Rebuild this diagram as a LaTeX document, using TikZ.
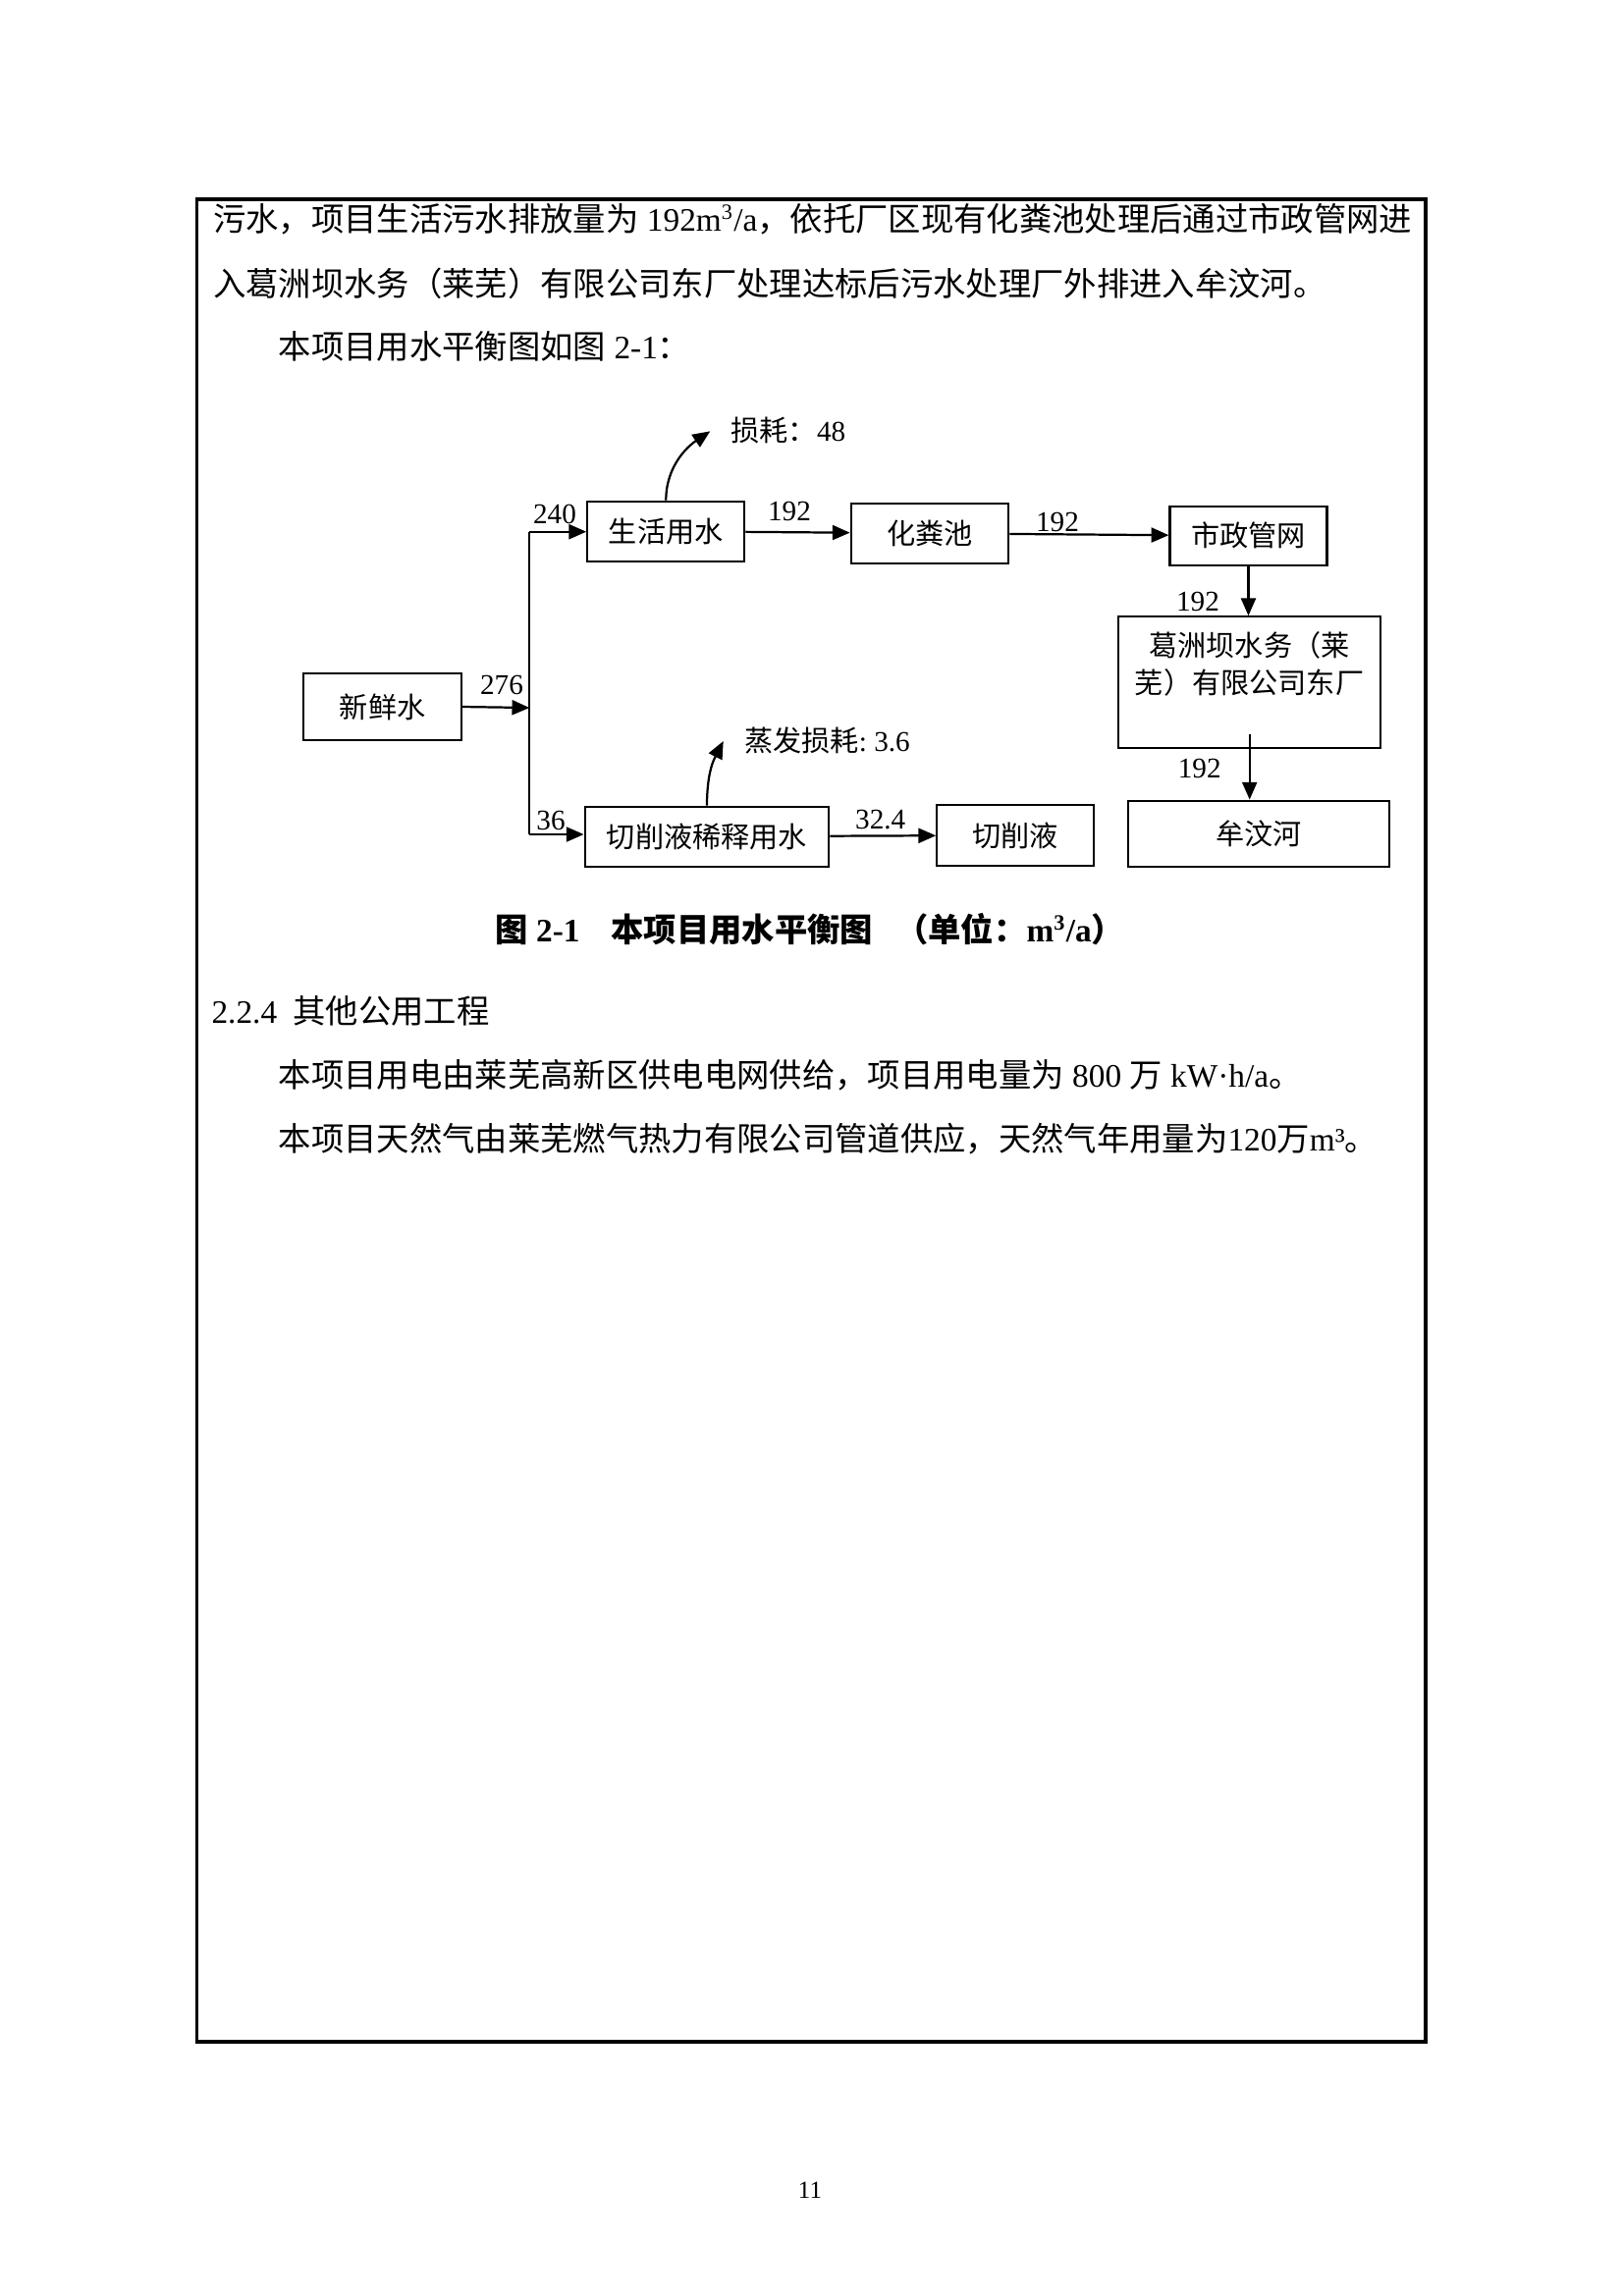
\documentclass[tikz,border=0pt]{standalone}
\usepackage{fontspec}
\setmainfont{Liberation Serif}
\newfontfamily\cjk{Noto Sans CJK SC}
\usetikzlibrary{arrows.meta}
\newcommand{\zh}[1]{{\cjk #1}}
\begin{document}
\begin{tikzpicture}[x=0.36pt, y=-0.36pt,
  box/.style={draw, line width=0.8pt, inner sep=0pt, font=\fontsize{10.5}{12}\selectfont\cjk},
  lbl/.style={inner sep=0pt, font=\fontsize{10.5}{12}\selectfont},
  flow/.style={line width=0.8pt, -{Triangle[length=6.4pt,width=5.4pt]}},
  body/.style={anchor=west, inner sep=0pt, font=\fontsize{12}{14}\selectfont},
  frameline/.style={line width=1.2pt}]
\fill[white] (0,0) rectangle (1653,2339);
\useasboundingbox (0,0) rectangle (1653,2339);

% page frame
\draw[frameline] (200.5,203) rectangle (1452,2080);

% body text
\node[body] (t1) at (216.7,223) {\zh{污水，项目生活污水排放量为} 192m\textsuperscript{3}/a\zh{，依托厂区现有化粪池处理后通过市政管网进}};
\node[body] (t2) at (216.7,288.5) {\zh{入葛洲坝水务（莱芜）有限公司东厂处理达标后污水处理厂外排进入牟汶河。}};
\node[body] (t3) at (283.3,353) {\zh{本项目用水平衡图如图} 2-1\zh{：}};

% diagram boxes
\node[box, minimum width=57.85pt, minimum height=24.48pt] (xxs) at (389.7,720) {新鲜水};
\node[box, minimum width=57.6pt, minimum height=21.96pt] (shys) at (678.3,541.2) {生活用水};
\node[box, minimum width=57.8pt, minimum height=22.07pt] (hfc) at (947,543.3) {化粪池};
\node[box, minimum width=57.6pt, minimum height=21.7pt] (szgw) at (1271.5,545.8) {市政管网};
\node[box, minimum width=95.9pt, minimum height=48pt] (gzb) at (1272.5,695) {};
\node[lbl, align=center, font=\fontsize{10.5}{13.7}\selectfont\cjk] (gzbt) at (1272.5,676) {葛洲坝水务（莱\\芜）有限公司东厂};
\node[box, minimum width=95.76pt, minimum height=24.12pt] (mwh) at (1282,849.2) {牟汶河};
\node[box, minimum width=89.5pt, minimum height=21.96pt] (qxys) at (720,852.2) {切削液稀释用水};
\node[box, minimum width=57.5pt, minimum height=22.2pt] (qxy) at (1034.2,850.9) {切削液};

% junctions
\coordinate (jt) at (539.3,541.7);
\coordinate (jm) at (539.3,721);
\coordinate (jb) at (539.3,850);
\coordinate (gzbout) at (1272.7,748.3);
\coordinate (loss1) at (723.3,439.3);
\coordinate (loss2) at (736.7,755);

% connectors
\draw[line width=0.8pt] (jt) -- (jb);
\draw[flow] (xxs.east) -- (jm);
\draw[flow] (jt) -- (jt -| shys.west);
\draw[flow] (jb) -- (jb -| qxys.west);
\draw[flow] (shys) -- (hfc);
\draw[flow] (hfc) -- (szgw);
\draw[flow] (szgw.south) -- (szgw.south |- gzb.north);
\draw[flow] (gzbout) -- (gzbout |- mwh.north);
\draw[flow] (qxys) -- (qxy);
\draw[flow] (shys.north) .. controls (678.3,475) and (700,455) .. (loss1);
\draw[flow] (qxys.north) .. controls (720,785) and (728,772) .. (loss2);

% labels
\node[lbl] (l276) at (511,698) {276};
\node[lbl] (l240) at (565,524) {240};
\node[lbl] (l36) at (561,836) {36};
\node[lbl] (l192a) at (804,521) {192};
\node[lbl] (l192b) at (1077,532) {192};
\node[lbl] (l192c) at (1220,613) {192};
\node[lbl] (l192d) at (1221.7,783) {192};
\node[lbl] (l324) at (896.7,835) {32.4};
\node[lbl, anchor=west] (lloss1) at (744,438) {\zh{损耗：}48};
\node[lbl, anchor=west] (lloss2) at (757.7,754) {\zh{蒸发损耗}:~3.6};

% caption
\node[body, font=\fontsize{12}{14}\selectfont\bfseries] (cap) at (504,947) {\zh{图} 2-1\hspace{11.5pt}\zh{本项目用水平衡图}\hspace{8.3pt}\zh{（单位：}m\textsuperscript{3}/a\zh{）}};

% following text
\node[body] (t4) at (215,1030) {2.2.4\hspace{5.8pt}\zh{其他公用工程}};
\node[body] (t5) at (283.3,1095) {\zh{本项目用电由莱芜高新区供电电网供给，项目用电量为} 800 \zh{万} kW·h/a\zh{。}};
\node[body] (t6) at (283.3,1160) {\zh{本项目天然气由莱芜燃气热力有限公司管道供应，天然气年用量为}120\zh{万}m³\zh{。}};

% page number
\node[inner sep=0pt, font=\fontsize{9}{10}\selectfont] (pg) at (825,2231) {11};
\end{tikzpicture}
\end{document}
